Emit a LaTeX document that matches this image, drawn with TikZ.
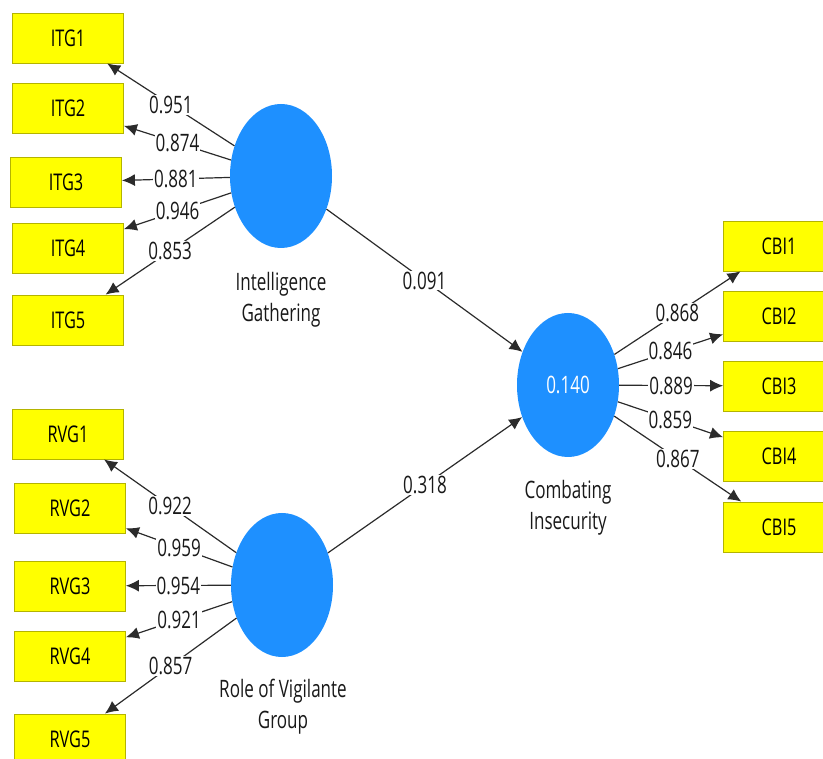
\documentclass[tikz,border=0pt]{standalone}
\usepackage{fontspec}
\newfontfamily\plsfont[FakeStretch=0.71]{Open Sans}
\definecolor{PLSYellow}{HTML}{FFFF00}
\definecolor{PLSOlive}{HTML}{B4B400}
\definecolor{PLSBlue}{HTML}{1E90FF}
\definecolor{PLSLine}{HTML}{2B2B2B}
\usetikzlibrary{shapes.geometric,arrows.meta}

\begin{document}
\begin{tikzpicture}[x=1pt,y=-1pt,
    indicator/.style={draw=PLSOlive,fill=PLSYellow,line width=0.8pt,minimum width=111pt,minimum height=50pt,inner sep=0pt,font=\plsfont\fontsize{23}{26}\selectfont},
    latent/.style={ellipse,fill=PLSBlue,minimum width=102pt,minimum height=144pt,inner sep=0pt,text=white,font=\plsfont\fontsize{24}{26}\selectfont},
    lvname/.style={align=center,text=black!90,font=\plsfont\fontsize{24}{31}\selectfont},
    coef/.style={fill=white,inner sep=1pt,text=black!90,font=\plsfont\fontsize{24}{26}\selectfont},
    link/.style={draw=PLSLine,line width=1.2pt,-{Latex[length=13pt,width=12pt]}}]
    \useasboundingbox (0,0) rectangle (823,759);

    % Intelligence Gathering
    \node[latent] (ig) at (281,176) {};
    \node[lvname] (igname) at (281,300) {Intelligence\\Gathering};
    \node[indicator] (itg1) at (68,38) {ITG1};
    \node[indicator] (itg2) at (68,108) {ITG2};
    \node[indicator] (itg3) at (66,182) {ITG3};
    \node[indicator] (itg4) at (68,248) {ITG4};
    \node[indicator] (itg5) at (68,320) {ITG5};
    \draw[link] (ig) -- node[coef] {0.951} (itg1);
    \draw[link] (ig) -- node[coef] {0.874} (itg2);
    \draw[link] (ig) -- node[coef] {0.881} (itg3);
    \draw[link] (ig) -- node[coef] {0.946} (itg4);
    \draw[link] (ig) -- node[coef] {0.853} (itg5);

    % Role of Vigilante Group
    \node[latent] (rvg) at (282,585) {};
    \node[lvname] (rvgname) at (283,707) {Role of Vigilante\\Group};
    \node[indicator] (rvg1) at (68,434) {RVG1};
    \node[indicator] (rvg2) at (70,508) {RVG2};
    \node[indicator] (rvg3) at (70,586) {RVG3};
    \node[indicator] (rvg4) at (70,656) {RVG4};
    \node[indicator] (rvg5) at (70,739) {RVG5};
    \draw[link] (rvg) -- node[coef] {0.922} (rvg1);
    \draw[link] (rvg) -- node[coef] {0.959} (rvg2);
    \draw[link] (rvg) -- node[coef] {0.954} (rvg3);
    \draw[link] (rvg) -- node[coef] {0.921} (rvg4);
    \draw[link] (rvg) -- node[coef] {0.857} (rvg5);

    % Combating Insecurity
    \node[latent] (ci) at (568,385) {0.140};
    \node[lvname] (ciname) at (568,508) {Combating\\Insecurity};
    \node[indicator] (cbi1) at (779,246) {CBI1};
    \node[indicator] (cbi2) at (779,316) {CBI2};
    \node[indicator] (cbi3) at (779,386) {CBI3};
    \node[indicator] (cbi4) at (779,456) {CBI4};
    \node[indicator] (cbi5) at (779,527) {CBI5};
    \draw[link] (ci) -- node[coef] {0.868} (cbi1);
    \draw[link] (ci) -- node[coef] {0.846} (cbi2);
    \draw[link] (ci) -- node[coef] {0.889} (cbi3);
    \draw[link] (ci) -- node[coef] {0.859} (cbi4);
    \draw[link] (ci) -- node[coef] {0.867} (cbi5);

    % Path coefficients
    \draw[link] (ig) -- node[coef] {0.091} (ci);
    \draw[link] (rvg) -- node[coef] {0.318} (ci);
\end{tikzpicture}
\end{document}
